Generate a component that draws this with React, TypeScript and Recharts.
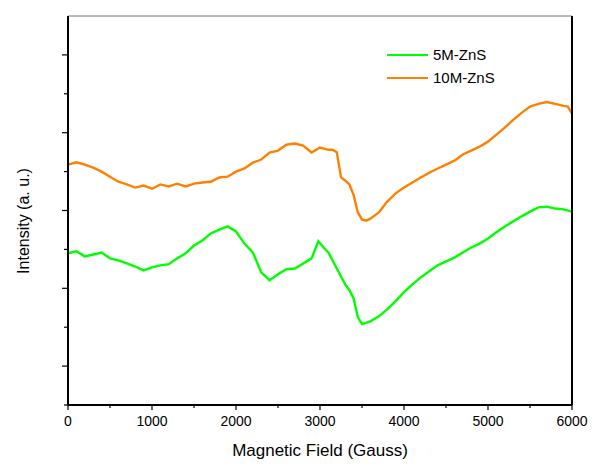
import React from 'react';
import { LineChart, Line, XAxis, YAxis, Legend } from 'recharts';

// field positions (Gauss) and intensities (arbitrary units)
const field10M = [
  0, 100, 200, 300, 400, 500, 600, 700, 800, 900, 1000, 1100, 1200, 1300, 1400, 1500,
  1600, 1700, 1800, 1900, 2000, 2100, 2200, 2300, 2400, 2500, 2600, 2700, 2800, 2900,
  3000, 3100, 3150, 3200, 3250, 3300, 3350, 3400, 3450, 3500, 3550, 3600, 3700, 3800,
  3900, 4000, 4100, 4200, 4300, 4400, 4500, 4600, 4700, 4800, 4900, 5000, 5100, 5200,
  5300, 5400, 5500, 5600, 5700, 5800, 5900, 5950, 6000,
];
const intensity10M = [
  6.18, 6.24, 6.18, 6.1, 6.0, 5.87, 5.74, 5.67, 5.59, 5.64, 5.56, 5.67, 5.62, 5.69, 5.62, 5.69,
  5.72, 5.74, 5.85, 5.87, 6.0, 6.08, 6.23, 6.31, 6.49, 6.54, 6.69, 6.72, 6.67, 6.49,
  6.62, 6.56, 6.56, 6.5, 5.85, 5.77, 5.67, 5.4, 4.95, 4.77, 4.74, 4.79, 4.95, 5.23,
  5.44, 5.59, 5.72, 5.85, 5.97, 6.08, 6.18, 6.28, 6.44, 6.54, 6.64, 6.77, 6.95, 7.13,
  7.33, 7.51, 7.67, 7.74, 7.79, 7.74, 7.69, 7.67, 7.49,
];

const field5M = [
  0, 100, 200, 300, 400, 500, 600, 700, 800, 900, 1000, 1100, 1200, 1300, 1400, 1500,
  1600, 1700, 1800, 1900, 2000, 2100, 2200, 2250, 2300, 2400, 2500, 2600, 2700, 2800,
  2900, 2980, 3050, 3100, 3200, 3300, 3350, 3400, 3450, 3500, 3600, 3700, 3800, 3900,
  4000, 4100, 4200, 4300, 4400, 4500, 4600, 4700, 4800, 4900, 5000, 5100, 5200, 5300,
  5400, 5500, 5600, 5700, 5800, 5900, 6000,
];
const intensity5M = [
  3.9, 3.95, 3.82, 3.87, 3.92, 3.77, 3.72, 3.64, 3.56, 3.46, 3.54, 3.59, 3.62, 3.77, 3.9, 4.1,
  4.23, 4.41, 4.51, 4.59, 4.46, 4.15, 3.92, 3.67, 3.41, 3.21, 3.36, 3.49, 3.51, 3.64,
  3.77, 4.21, 4.03, 3.92, 3.51, 3.1, 2.95, 2.74, 2.26, 2.08, 2.15, 2.28, 2.46, 2.67,
  2.9, 3.1, 3.28, 3.44, 3.59, 3.69, 3.79, 3.92, 4.05, 4.15, 4.28, 4.44, 4.59, 4.72,
  4.85, 4.97, 5.08, 5.1, 5.05, 5.03, 4.97,
];

const xTicks = [0, 500, 1000, 1500, 2000, 2500, 3000, 3500, 4000, 4500, 5000, 5500, 6000];
const yTicksLeft = [0, 1, 2, 3, 4, 5, 6, 7, 8, 9];
const yTicksRight = [0, 0.5, 1, 1.5, 2, 2.5, 3, 3.5, 4, 4.5, 5, 5.5, 6, 6.5, 7, 7.5, 8, 8.5, 9, 9.5, 10];

const series = [
  { name: '5M-ZnS', color: '#00ff00' },
  { name: '10M-ZnS', color: '#ff8000' },
];

const data5M = field5M.map((x, i) => ({ field: x, value: intensity5M[i] }));
const data10M = field10M.map((x, i) => ({ field: x, value: intensity10M[i] }));

const FONT = '"Liberation Sans", Arial, sans-serif';

const BottomTick = (props: any) => {
  const { x, y, payload } = props;
  const major = payload.value % 1000 === 0;
  return (
    <g>
      <line x1={x} x2={x} y1={y} y2={y + (major ? 5 : 3)} stroke="#000" strokeWidth={1.2} />
      {major && (
        <text x={x} y={y + 21} textAnchor="middle" fontSize={14} fontFamily={FONT} fill="#000">
          {payload.value}
        </text>
      )}
    </g>
  );
};

const LeftTick = (props: any) => {
  const { x, y, payload } = props;
  const major = payload.value % 2 === 1;
  return <line x1={x} x2={x - (major ? 6 : 4)} y1={y} y2={y} stroke="#000" strokeWidth={1.2} />;
};

const RightTick = (props: any) => {
  const { x, y } = props;
  return <line x1={x} x2={x + 2} y1={y} y2={y} stroke="#333" strokeWidth={1} />;
};

const TopTick = (props: any) => {
  const { x, y } = props;
  return <line x1={x} x2={x} y1={y} y2={y - 1.5} stroke="#888" strokeWidth={1} />;
};

const LegendBox = () => (
  <div style={{ fontFamily: FONT, fontSize: 15, color: '#000' }}>
    {series.map((s) => (
      <div key={s.name} style={{ display: 'flex', alignItems: 'center', height: 23 }}>
        <div style={{ width: 41, height: 2, background: s.color, marginRight: 5 }} />
        <span>{s.name}</span>
      </div>
    ))}
  </div>
);

export default function App() {
  return (
    <div style={{ position: 'absolute', left: 0, top: 0 }}>
      <LineChart width={592} height={464} margin={{ top: 15, right: 15, bottom: 29, left: 28 }}>
        <XAxis
          xAxisId="b"
          dataKey="field"
          type="number"
          domain={[0, 6000]}
          ticks={xTicks}
          interval={0}
          height={30}
          tickSize={0}
          tickMargin={0}
          tickLine={false}
          tick={<BottomTick />}
          axisLine={{ stroke: '#000', strokeWidth: 2 }}
          label={{
            content: () => (
              <text x={320} y={456} textAnchor="middle" fontSize={17} fontFamily={FONT} fill="#000">
                Magnetic Field (Gauss)
              </text>
            ),
          }}
        />
        <XAxis
          xAxisId="t"
          orientation="top"
          dataKey="field"
          type="number"
          domain={[0, 6000]}
          ticks={xTicks}
          interval={0}
          height={1}
          tickSize={0}
          tickMargin={0}
          tickLine={false}
          tick={<TopTick />}
          axisLine={{ stroke: '#777', strokeWidth: 1 }}
        />
        <YAxis
          yAxisId="l"
          type="number"
          domain={[0, 10]}
          ticks={yTicksLeft}
          interval={0}
          width={40}
          tickSize={0}
          tickMargin={0}
          tickLine={false}
          tick={<LeftTick />}
          axisLine={{ stroke: '#000', strokeWidth: 2 }}
          label={{
            content: () => (
              <text
                x={29}
                y={221}
                textAnchor="middle"
                fontSize={16}
                fontFamily={FONT}
                fill="#000"
                transform="rotate(-90 29 221)"
              >
                Intensity (a. u.)
              </text>
            ),
          }}
        />
        <YAxis
          yAxisId="r"
          orientation="right"
          type="number"
          domain={[0, 10]}
          ticks={yTicksRight}
          interval={0}
          width={5}
          tickSize={0}
          tickMargin={0}
          tickLine={false}
          tick={<RightTick />}
          axisLine={{ stroke: '#000', strokeWidth: 2 }}
        />
        <Legend
          layout="horizontal"
          verticalAlign="middle"
          align="center"
          content={<LegendBox />}
          wrapperStyle={{ position: 'absolute', left: 387, top: 43, width: 160, bottom: 'auto' }}
        />
        <Line
          xAxisId="b"
          yAxisId="l"
          data={data5M}
          dataKey="value"
          name="5M-ZnS"
          type="linear"
          stroke={series[0].color}
          strokeWidth={2.4}
          dot={false}
          isAnimationActive={false}
        />
        <Line
          xAxisId="b"
          yAxisId="l"
          data={data10M}
          dataKey="value"
          name="10M-ZnS"
          type="linear"
          stroke={series[1].color}
          strokeWidth={2.4}
          dot={false}
          isAnimationActive={false}
        />
      </LineChart>
    </div>
  );
}
